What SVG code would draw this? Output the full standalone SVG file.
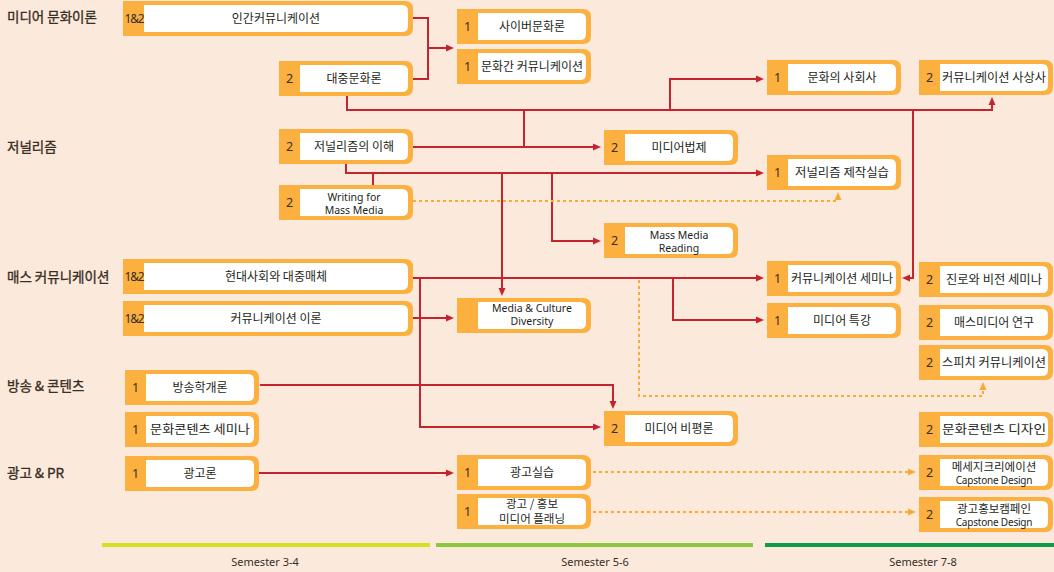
<svg xmlns="http://www.w3.org/2000/svg" xmlns:xlink="http://www.w3.org/1999/xlink" width="1054" height="572" viewBox="0 0 1054 572">
<style>
.t{font-family:"Noto Sans CJK KR","Noto Sans",sans-serif;font-size:12px;fill:#231f20;text-anchor:middle}
.t2{font-family:"Noto Sans CJK KR","Noto Sans",sans-serif;font-size:11.5px;fill:#231f20;text-anchor:middle}
.e{font-family:"Noto Sans","Open Sans",sans-serif;font-size:10.5px;fill:#231f20;text-anchor:middle}
.cap{font-family:"Noto Sans","Open Sans",sans-serif;font-size:10px;fill:#231f20;text-anchor:middle;letter-spacing:-0.2px}
.n{font-family:"Noto Sans","Liberation Sans",sans-serif;font-size:12.5px;fill:#3a2e26;text-anchor:middle}
.n2{font-family:"Noto Sans","Liberation Sans",sans-serif;font-size:12px;fill:#3a2e26;text-anchor:middle;letter-spacing:-1.2px}
.cat{font-family:"Noto Sans CJK KR","Noto Sans",sans-serif;font-size:13.5px;fill:#3a2e26;stroke:#3a2e26;stroke-width:0.35px}
.sem{font-family:"Noto Sans","Open Sans",sans-serif;font-size:11px;fill:#3a2e26;text-anchor:middle}
.r{fill:none;stroke:#c4242d;stroke-width:2}
.d{fill:none;stroke:#f8a93a;stroke-width:2;stroke-dasharray:3 3}
.o{fill:#fbb040}
.w{fill:#ffffff}
</style>
<defs>
<marker id="ar" viewBox="0 0 8 8" refX="5" refY="4" markerWidth="8" markerHeight="8" markerUnits="userSpaceOnUse" orient="auto"><path d="M0,0.5 L8,4 L0,7.5 Z" fill="#c4242d"/></marker>
<marker id="ao" viewBox="0 0 8 8" refX="5" refY="4" markerWidth="8" markerHeight="8" markerUnits="userSpaceOnUse" orient="auto"><path d="M0,0.5 L8,4 L0,7.5 Z" fill="#f8a93a"/></marker>
<g id="b134"><path class="o" d="M0 0 H126 Q134 0 134 8 V27 Q134 35 126 35 H0 Z"/><path class="w" d="M21 4 H123 Q129 4 129 10 V25 Q129 31 123 31 H21 Z"/></g>
<g id="b290"><path class="o" d="M0 0 H282 Q290 0 290 8 V27 Q290 35 282 35 H0 Z"/><path class="w" d="M21 4 H279 Q285 4 285 10 V25 Q285 31 279 31 H21 Z"/></g>
</defs>
<rect x="0" y="0" width="1054" height="572" fill="#fbeadb"/>

<g id="categories">
<text class="cat" x="7" y="22">미디어 문화이론</text>
<text class="cat" x="7" y="152">저널리즘</text>
<text class="cat" x="7" y="282">매스 커뮤니케이션</text>
<text class="cat" x="7" y="391">방송 &amp; 콘텐츠</text>
<text class="cat" x="7" y="478">광고 &amp; PR</text>
</g>

<g id="connectors">
<path class="r" d="M413 18 H428 V79 H413"/>
<path class="r" d="M428 48 H451" marker-end="url(#ar)"/>
<path class="r" d="M347 96 V110 H992 V100" marker-end="url(#ar)"/>
<path class="r" d="M670 110 V79 H761" marker-end="url(#ar)"/>
<path class="r" d="M913 110 V278 H905" marker-end="url(#ar)"/>
<path class="r" d="M524 110 V147"/>
<path class="r" d="M413 147 H598" marker-end="url(#ar)"/>
<path class="r" d="M346 164 V173 H761" marker-end="url(#ar)"/>
<path class="r" d="M373 173 V185"/>
<path class="r" d="M502 173 V293" marker-end="url(#ar)"/>
<path class="r" d="M552 173 V241 H598" marker-end="url(#ar)"/>
<path class="d" d="M413 201 H838 V195" marker-end="url(#ao)"/>
<path class="r" d="M413 278 H761" marker-end="url(#ar)"/>
<path class="r" d="M673 278 V320 H761" marker-end="url(#ar)"/>
<path class="r" d="M420 278 V427 H598" marker-end="url(#ar)"/>
<path class="d" d="M639 280 V396 H983 V385" marker-end="url(#ao)"/>
<path class="r" d="M413 318 H451" marker-end="url(#ar)"/>
<path class="r" d="M260 385 H613 V406" marker-end="url(#ar)"/>
<path class="r" d="M259 473 H451" marker-end="url(#ar)"/>
<path class="d" d="M593 472 H913" marker-end="url(#ao)"/>
<path class="d" d="M593 512 H913" marker-end="url(#ao)"/>
</g>

<g id="n1"><use xlink:href="#b290" x="123" y="1"/><text class="n2" x="134" y="23">1&amp;2</text><text class="t" x="276" y="23">인간커뮤니케이션</text></g>
<g id="n2"><use xlink:href="#b134" x="279" y="61"/><text class="n" x="289.5" y="83">2</text><text class="t" x="354" y="83">대중문화론</text></g>
<g id="n3"><use xlink:href="#b134" x="457" y="9"/><text class="n" x="467.5" y="31">1</text><text class="t" x="532" y="31">사이버문화론</text></g>
<g id="n4"><use xlink:href="#b134" x="457" y="49"/><text class="n" x="467.5" y="71">1</text><text class="t" x="532" y="71" textLength="102" lengthAdjust="spacingAndGlyphs">문화간 커뮤니케이션</text></g>
<g id="n5"><use xlink:href="#b134" x="767" y="60"/><text class="n" x="777.5" y="82">1</text><text class="t" x="842" y="82">문화의 사회사</text></g>
<g id="n6"><use xlink:href="#b134" x="919" y="60"/><text class="n" x="929.5" y="82">2</text><text class="t" x="994" y="82" textLength="104" lengthAdjust="spacingAndGlyphs">커뮤니케이션 사상사</text></g>
<g id="n7"><use xlink:href="#b134" x="279" y="129"/><text class="n" x="289.5" y="151">2</text><text class="t" x="354" y="151">저널리즘의 이해</text></g>
<g id="n8"><use xlink:href="#b134" x="604" y="130"/><text class="n" x="614.5" y="152">2</text><text class="t" x="679" y="152">미디어법제</text></g>
<g id="n9"><use xlink:href="#b134" x="767" y="155"/><text class="n" x="777.5" y="177">1</text><text class="t" x="842" y="177" textLength="94" lengthAdjust="spacingAndGlyphs">저널리즘 제작실습</text></g>
<g id="n10"><use xlink:href="#b134" x="279" y="185"/><text class="n" x="289.5" y="207">2</text><text class="e" x="354" y="201">Writing for</text><text class="e" x="354" y="213.5">Mass Media</text></g>
<g id="n11"><use xlink:href="#b134" x="604" y="223"/><text class="n" x="614.5" y="245">2</text><text class="e" x="679" y="239">Mass Media</text><text class="e" x="679" y="251.5">Reading</text></g>
<g id="n12"><use xlink:href="#b290" x="123" y="259"/><text class="n2" x="134" y="281">1&amp;2</text><text class="t" x="276" y="281">현대사회와 대중매체</text></g>
<g id="n13"><use xlink:href="#b290" x="123" y="301"/><text class="n2" x="134" y="323">1&amp;2</text><text class="t" x="276" y="323">커뮤니케이션 이론</text></g>
<g id="n14"><use xlink:href="#b134" x="457" y="298"/><text class="e" x="532" y="312">Media &amp; Culture</text><text class="e" x="532" y="324.5">Diversity</text></g>
<g id="n15"><use xlink:href="#b134" x="767" y="261"/><text class="n" x="777.5" y="283">1</text><text class="t" x="842" y="283" textLength="102" lengthAdjust="spacingAndGlyphs">커뮤니케이션 세미나</text></g>
<g id="n16"><use xlink:href="#b134" x="767" y="303"/><text class="n" x="777.5" y="325">1</text><text class="t" x="842" y="325">미디어 특강</text></g>
<g id="n17"><use xlink:href="#b134" x="919" y="262"/><text class="n" x="929.5" y="284">2</text><text class="t" x="994" y="284" textLength="96" lengthAdjust="spacingAndGlyphs">진로와 비전 세미나</text></g>
<g id="n18"><use xlink:href="#b134" x="919" y="305"/><text class="n" x="929.5" y="327">2</text><text class="t" x="994" y="327">매스미디어 연구</text></g>
<g id="n19"><use xlink:href="#b134" x="919" y="345"/><text class="n" x="929.5" y="367">2</text><text class="t" x="994" y="367" textLength="104" lengthAdjust="spacingAndGlyphs">스피치 커뮤니케이션</text></g>
<g id="n20"><use xlink:href="#b134" x="125" y="370"/><text class="n" x="135.5" y="392">1</text><text class="t" x="200" y="392">방송학개론</text></g>
<g id="n21"><use xlink:href="#b134" x="125" y="412"/><text class="n" x="135.5" y="434">1</text><text class="t" x="200" y="434" textLength="100" lengthAdjust="spacingAndGlyphs">문화콘텐츠 세미나</text></g>
<g id="n22"><use xlink:href="#b134" x="604" y="411"/><text class="n" x="614.5" y="433">2</text><text class="t" x="679" y="433">미디어 비평론</text></g>
<g id="n23"><use xlink:href="#b134" x="919" y="412"/><text class="n" x="929.5" y="434">2</text><text class="t" x="994" y="434" textLength="104" lengthAdjust="spacingAndGlyphs">문화콘텐츠 디자인</text></g>
<g id="n24"><use xlink:href="#b134" x="125" y="456"/><text class="n" x="135.5" y="478">1</text><text class="t" x="200" y="478">광고론</text></g>
<g id="n25"><use xlink:href="#b134" x="457" y="455"/><text class="n" x="467.5" y="477">1</text><text class="t" x="532" y="477">광고실습</text></g>
<g id="n26"><use xlink:href="#b134" x="457" y="494"/><text class="n" x="467.5" y="516">1</text><text class="t2" x="532" y="507.5">광고 / 홍보</text><text class="t2" x="532" y="522.5">미디어 플래닝</text></g>
<g id="n27"><use xlink:href="#b134" x="919" y="455"/><text class="n" x="929.5" y="477">2</text><text class="t2" x="994" y="470.5">메세지크리에이션</text><text class="cap" x="994" y="484">Capstone Design</text></g>
<g id="n28"><use xlink:href="#b134" x="919" y="497"/><text class="n" x="929.5" y="519">2</text><text class="t2" x="994" y="512.5">광고홍보캠페인</text><text class="cap" x="994" y="526">Capstone Design</text></g>

<g id="semesters">
<rect x="102" y="543" width="328" height="4" fill="#d6de23"/>
<rect x="436" y="543" width="317" height="4" fill="#8dc63f"/>
<rect x="765" y="543" width="289" height="4" fill="#0f9a48"/>
<text class="sem" x="265" y="566">Semester 3-4</text>
<text class="sem" x="595" y="566">Semester 5-6</text>
<text class="sem" x="923" y="566">Semester 7-8</text>
</g>
</svg>
